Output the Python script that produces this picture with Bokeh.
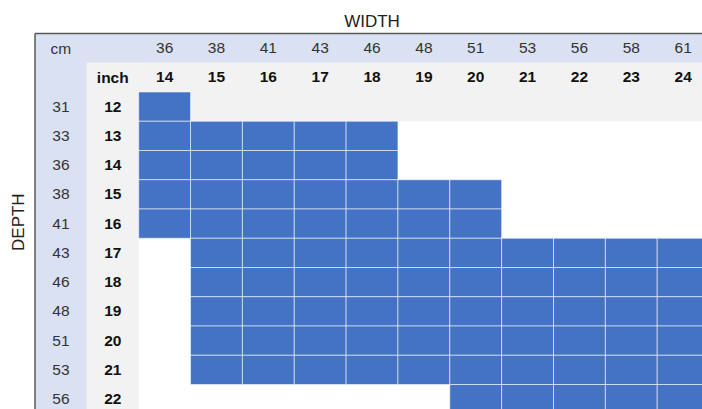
import math
from bokeh.plotting import figure
from bokeh.models import ColumnDataSource, Range1d
from bokeh.core.properties import value
from bokeh.embed import file_html
from bokeh.resources import INLINE

# ---- data ----
width_cm = [36, 38, 41, 43, 46, 48, 51, 53, 56, 58, 61]
width_in = [14, 15, 16, 17, 18, 19, 20, 21, 22, 23, 24]
depth_cm = [31, 33, 36, 38, 41, 43, 46, 48, 51, 53, 56]
depth_in = [12, 13, 14, 15, 16, 17, 18, 19, 20, 21, 22]
# available width range (in inches) for each depth row
avail_min_in = [14, 14, 14, 14, 14, 15, 15, 15, 15, 15, 20]
avail_max_in = [14, 18, 18, 20, 20, 24, 24, 24, 24, 24, 24]

# ---- layout ----
W, H = 702, 409
CW, RH = 51.85, 29.25       # pixel size of a cell
LEFT_PX, TOP_PX = 34.5, 33.0
NCOL = 2 + len(width_cm)
NROW = 2 + len(depth_cm)

BLUE = "#4472C4"
HEAD_BLUE = "#D9E1F2"
GRAY = "#F2F2F2"
FONT = value("Liberation Sans")
FS = "15.5px"

p = figure(width=W, height=H, output_backend="svg", toolbar_location=None,
           x_range=Range1d(-LEFT_PX / CW, (W - LEFT_PX) / CW),
           y_range=Range1d((H - TOP_PX) / RH, -TOP_PX / RH),
           x_axis_type=None, y_axis_type=None, min_border=0)
p.grid.visible = False
p.outline_line_color = None
p.background_fill_color = "white"
p.border_fill_color = "white"

# header backgrounds
p.quad(left=[0, 0], right=[NCOL, 1], top=[0, 0], bottom=[1, NROW],
       fill_color=HEAD_BLUE, line_color=None)
p.quad(left=[1, 1, 2], right=[NCOL, 2, NCOL], top=[1, 1, 2], bottom=[2, NROW, 3],
       fill_color=GRAY, line_color=None)

# available cells
lefts, rights, tops, bottoms = [], [], [], []
for k, (lo, hi) in enumerate(zip(avail_min_in, avail_max_in)):
    for j, w in enumerate(width_in):
        if lo <= w <= hi:
            lefts.append(2 + j); rights.append(3 + j)
            tops.append(2 + k); bottoms.append(3 + k)
cells = ColumnDataSource(dict(left=lefts, right=rights, top=tops, bottom=bottoms))
p.quad(left="left", right="right", top="top", bottom="bottom", source=cells,
       fill_color=BLUE, line_color="white", line_alpha=0.55, line_width=1)

# table border lines (top and left)
p.segment(x0=[0, 0], y0=[0, 0], x1=[NCOL, 0], y1=[0, NROW],
          line_color="#595959", line_width=1.5)

# header texts
p.text(x=[0.5], y=[0.5], text=["cm"], text_font=FONT, text_font_size=FS,
       text_color="#333333", text_align="center", text_baseline="middle")
p.text(x=[1.5], y=[1.5], text=["inch"], text_font=FONT, text_font_size=FS,
       text_font_style="bold", text_color="#111111", text_align="center", text_baseline="middle")

p.text(x=[2.5 + j for j in range(len(width_cm))], y=[0.5] * len(width_cm),
       text=[str(v) for v in width_cm], text_font=FONT, text_font_size=FS,
       text_color="#333333", text_align="center", text_baseline="middle")
p.text(x=[2.5 + j for j in range(len(width_in))], y=[1.5] * len(width_in),
       text=[str(v) for v in width_in], text_font=FONT, text_font_size=FS,
       text_font_style="bold", text_color="#111111", text_align="center", text_baseline="middle")
p.text(x=[0.5] * len(depth_cm), y=[2.5 + k for k in range(len(depth_cm))],
       text=[str(v) for v in depth_cm], text_font=FONT, text_font_size=FS,
       text_color="#333333", text_align="center", text_baseline="middle")
p.text(x=[1.5] * len(depth_in), y=[2.5 + k for k in range(len(depth_in))],
       text=[str(v) for v in depth_in], text_font=FONT, text_font_size=FS,
       text_font_style="bold", text_color="#111111", text_align="center", text_baseline="middle")

# titles
p.text(x=[NCOL / 2], y=[-12.3 / RH], text=["WIDTH"], text_font=FONT, text_font_size="17px",
       text_color="#222222", text_align="center", text_baseline="middle")
p.text(x=[-16.2 / CW], y=[NROW / 2 - 0.05], text=["DEPTH"], text_font=FONT, text_font_size="17px",
       text_color="#222222", text_align="center", text_baseline="middle", angle=math.pi / 2)

open("out.html", "w").write(file_html(p, INLINE))
